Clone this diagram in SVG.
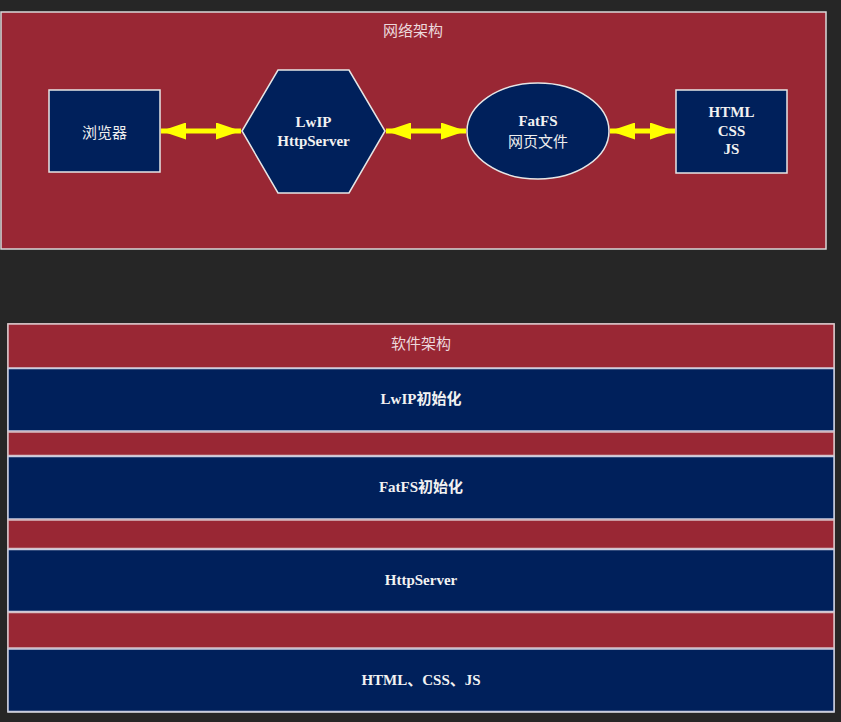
<svg xmlns="http://www.w3.org/2000/svg" width="841" height="722" viewBox="0 0 841 722">
<defs>
<style>
.frame{fill:#992734;stroke:#d9d9d9;stroke-width:1.5}
.node{fill:#00205b;stroke:#e6e6e6;stroke-width:1.5}
.layer{fill:#00205b;stroke:#c8cce0;stroke-width:1.5}
.band{fill:#992734;stroke:#d8c0c4;stroke-width:1.5}
.t{font-family:"Liberation Serif","Noto Sans CJK SC",serif;font-size:15px;font-weight:bold;fill:#f2f2f2;text-anchor:middle;dominant-baseline:central}
.cn{font-family:"Noto Sans CJK SC",sans-serif;font-size:15px;fill:#eeeeee;text-anchor:middle;dominant-baseline:central}
.title{font-family:"Noto Sans CJK SC",sans-serif;font-size:15px;fill:#ecd8dc;text-anchor:middle;dominant-baseline:central}
.arr{stroke:#ffff00;stroke-width:5;fill:none;marker-start:url(#ah);marker-end:url(#ah)}
</style>
<marker id="ah" markerUnits="userSpaceOnUse" markerWidth="25" markerHeight="17" refX="25" refY="8.5" orient="auto-start-reverse" viewBox="0 0 25 17">
<path d="M0,0 L25,8.5 L0,17 z" fill="#ffff00"/>
</marker>
</defs>
<rect width="841" height="722" fill="#262626"/>

<g id="network">
<rect class="frame" x="1" y="12" width="825" height="237"/>
<text class="title" x="413" y="29">网络架构</text>
</g>

<g id="browser">
<rect class="node" x="49" y="90" width="111" height="82"/>
<text class="cn" x="104.5" y="131">浏览器</text>
</g>

<g id="lwip">
<polygon class="node" points="242,131 278,70 349,70 385,131 349,193 278,193"/>
<text class="t" x="313.5" y="122">LwIP</text>
<text class="t" x="313.5" y="141">HttpServer</text>
</g>

<g id="fatfs">
<ellipse class="node" cx="538" cy="131" rx="71" ry="48"/>
<text class="t" x="538" y="121">FatFS</text>
<text class="cn" x="538" y="140">网页文件</text>
</g>

<g id="html">
<rect class="node" x="676" y="90" width="111" height="83"/>
<text class="t" x="731.5" y="112">HTML</text>
<text class="t" x="731.5" y="131">CSS</text>
<text class="t" x="731.5" y="149">JS</text>
</g>

<g id="connectors">
<line class="arr" x1="161" y1="131" x2="241" y2="131"/>
<line class="arr" x1="386" y1="131" x2="466" y2="131"/>
<line class="arr" x1="610" y1="131" x2="675" y2="131"/>
</g>

<g id="software">
<rect class="frame" x="8" y="324" width="826" height="388"/>
<rect class="band" x="8" y="324" width="826" height="44"/>
<text class="title" x="421" y="342">软件架构</text>
</g>

<g id="layer-lwip">
<rect class="layer" x="8" y="368.5" width="826" height="62.5"/>
<text class="t" x="421" y="399">LwIP初始化</text>
</g>
<g id="band1"><rect class="band" x="8" y="432" width="826" height="23.5"/></g>

<g id="layer-fatfs">
<rect class="layer" x="8" y="456.5" width="826" height="62.5"/>
<text class="t" x="421" y="487">FatFS初始化</text>
</g>
<g id="band2"><rect class="band" x="8" y="520" width="826" height="28.5"/></g>

<g id="layer-http">
<rect class="layer" x="8" y="549.5" width="826" height="62"/>
<text class="t" x="421" y="580">HttpServer</text>
</g>
<g id="band3"><rect class="band" x="8" y="612.5" width="826" height="35.5"/></g>

<g id="layer-html">
<rect class="layer" x="8" y="649" width="826" height="62.5"/>
<text class="t" x="421" y="680">HTML、CSS、JS</text>
</g>
</svg>
